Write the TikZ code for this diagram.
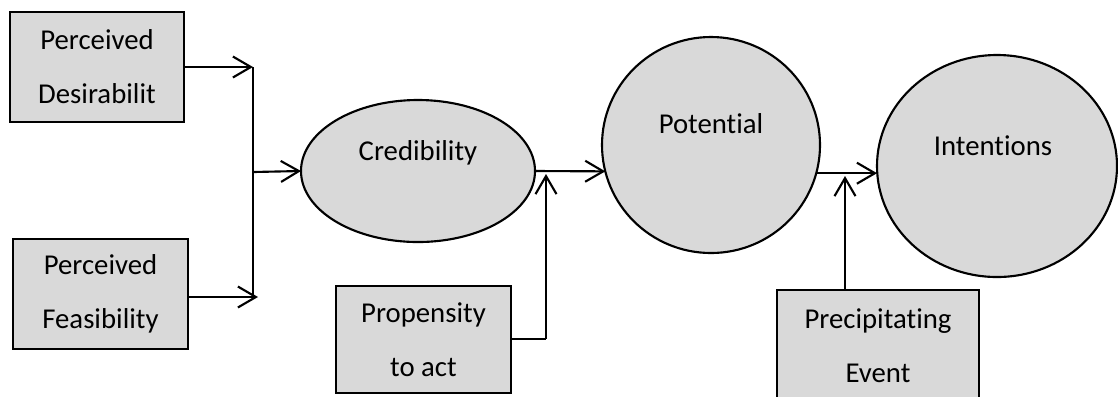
\documentclass[tikz,border=0pt]{standalone}
\usepackage{fontspec}
\setmainfont{Carlito}[Ligatures=NoCommon]
\usetikzlibrary{arrows.meta,shapes.geometric}
\definecolor{boxfill}{HTML}{D9D9D9}
\begin{document}
\begin{tikzpicture}[x=0.4pt,y=-0.4pt,
  every node/.style={font=\fontsize{11.5}{21.6}\selectfont},
  factor/.style={draw=black,line width=0.85pt,fill=boxfill,rectangle,inner sep=0pt,outer sep=0pt,align=center},
  stage/.style={draw=black,line width=0.85pt,fill=boxfill,ellipse,inner sep=0pt,outer sep=0pt},
  lbl/.style={inner sep=0pt},
  link/.style={line width=0.85pt},
  arr/.style={link,-{Straight Barb[length=7.2pt,width=8.4pt,line width=0.85pt]}}]
\useasboundingbox (0,0) rectangle (1118,396);

% input factors
\node[factor,minimum width=69.6pt,minimum height=44pt] (des) at (97,67) {Perceived\\Desirabilit};
\node[factor,minimum width=70pt,minimum height=44pt] (fea) at (100.5,294) {Perceived\\Feasibility};
\node[factor,minimum width=70pt,minimum height=42.8pt] (prop) at (423.5,339.5) {Propensity\\to act};
\node[factor,minimum width=80.8pt,minimum height=44.8pt] (prec) at (878,346) {Precipitating\\Event};

% stages
\node[stage,minimum width=93.6pt,minimum height=56.8pt] (cred) at (418,171) {};
\node[lbl] (credt) at (418,153) {Credibility};
\node[stage,minimum width=87.2pt,minimum height=86.4pt] (pot) at (711,145) {};
\node[lbl] (pott) at (711,124) {Potential};
\node[stage,minimum width=96pt,minimum height=88.8pt] (int) at (997,166) {};
\node[lbl] (intt) at (993,146) {Intentions};

% junction points
\coordinate (jt) at (253,67);
\coordinate (jb) at (253,297);
\coordinate (jm) at (253,172);
\coordinate (pk) at (546,339);
\coordinate (ptip) at (546,174);
\coordinate (etip) at (845,176);

% connectors
\draw[arr] (des.east |- jt) -- (jt);
\draw[arr] (fea.east |- jb) -- ([xshift=2]jb);
\draw[link] (jt) -- (jb);
\draw[arr] (jm) -- (cred.west);
\draw[arr] (cred.east) -- (pot.194);
\draw[link] (prop.east |- pk) -- (pk);
\draw[arr] (pk) -- (ptip);
\draw[arr] (pot.345) -- (pot.345 -| int.west);
\draw[arr] (prec.north -| etip) -- (etip);
\end{tikzpicture}
\end{document}
